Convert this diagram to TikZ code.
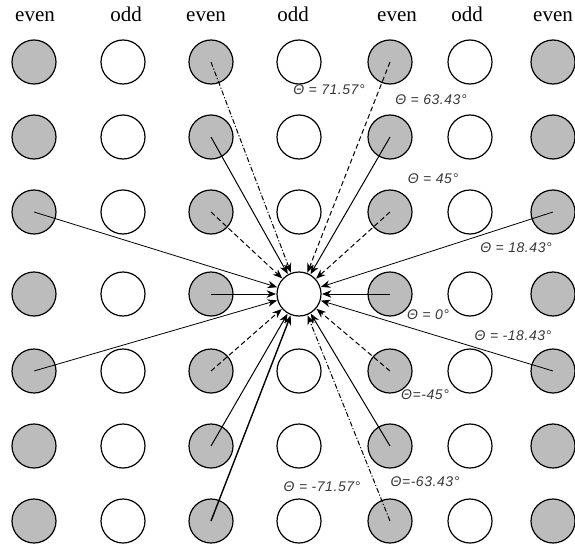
\documentclass[tikz,border=0pt]{standalone}
\usepackage{fontspec}
\setmainfont{Liberation Serif}
\newfontfamily\labfont[LetterSpace=4]{Liberation Sans}
\usetikzlibrary{arrows.meta}
\definecolor{dotgray}{RGB}{188,188,188}
\definecolor{labgray}{RGB}{55,55,55}
\begin{document}
\begin{tikzpicture}[x=1pt,y=-1pt,
  dot/.style={circle,draw=black,line width=1.2pt,minimum size=44pt,inner sep=0pt},
  head/.style={anchor=base,inner sep=0pt,font=\fontsize{21}{21}\selectfont},
  lab/.style={inner sep=0pt,text=labgray,font=\labfont\itshape\fontsize{14}{14}\selectfont},
  arr/.style={-{Stealth[length=9.5pt,width=7.5pt]},line width=1pt,shorten >=0.3pt},
  solidarr/.style={arr},
  thinarr/.style={arr,line width=0.8pt},
  thickarr/.style={arr,line width=1.4pt},
  dasharr/.style={arr,dash pattern=on 5pt off 3pt},
  dotdasharr/.style={arr,dash pattern=on 5pt off 2pt on 1.2pt off 2pt},
]
\useasboundingbox (0,0) rectangle (575,543);
% column headers
\node[head] (h1) at (35,22) {even};
\node[head] (h2) at (126,22) {odd};
\node[head] (h3) at (206,22) {even};
\node[head] (h4) at (293,22) {odd};
\node[head] (h5) at (397,22) {even};
\node[head] (h6) at (467,22) {odd};
\node[head] (h7) at (553,22) {even};
% grid of circles
\foreach \cx [count=\i] in {34,123,211,299,390,470,553}{
  \foreach \cy [count=\j] in {62,137,212,294,371,446,521}{
    \ifodd\i \def\fillc{dotgray}\else\def\fillc{white}\fi
    \node[dot,fill=\fillc] (c\i\j) at (\cx,\cy) {};
  }
}
% connectors to the centre circle c44
\draw[dotdasharr] (c31.center) -- (c44);
\draw[dasharr]    (c51.center) -- (c44);
\draw[solidarr]   (c32.center) -- (c44);
\draw[solidarr]   (c52.center) -- (c44);
\draw[dasharr]    (c33.center) -- (c44);
\draw[dasharr]    (c53.center) -- (c44);
\draw[thinarr]    (c13.center) -- (c44);
\draw[thinarr]    (c73.center) -- (c44);
\draw[solidarr]   (c34.center) -- (c44);
\draw[solidarr]   (c54.center) -- (c44);
\draw[thinarr]    (c15.center) -- (c44);
\draw[thinarr]    (c75.center) -- (c44);
\draw[dasharr]    (c35.center) -- (c44);
\draw[dasharr]    (c55.center) -- (c44);
\draw[solidarr]   (c36.center) -- (c44);
\draw[solidarr]   (c56.center) -- (c44);
\draw[thickarr]   (c37.center) -- (c44);
\draw[dotdasharr] (c57.center) -- (c44);
% angle labels
\node[lab] (t1) at (329,90)  {Θ = 71.57°};
\node[lab] (t2) at (431,100) {Θ = 63.43°};
\node[lab] (t3) at (433,179) {Θ = 45°};
\node[lab] (t4) at (516,248) {Θ = 18.43°};
\node[lab] (t5) at (428,315) {Θ = 0°};
\node[lab] (t6) at (513,336) {Θ = -18.43°};
\node[lab] (t7) at (425,395) {Θ=-45°};
\node[lab] (t8) at (425,482) {Θ=-63.43°};
\node[lab] (t9) at (322,487) {Θ = -71.57°};
\end{tikzpicture}
\end{document}
